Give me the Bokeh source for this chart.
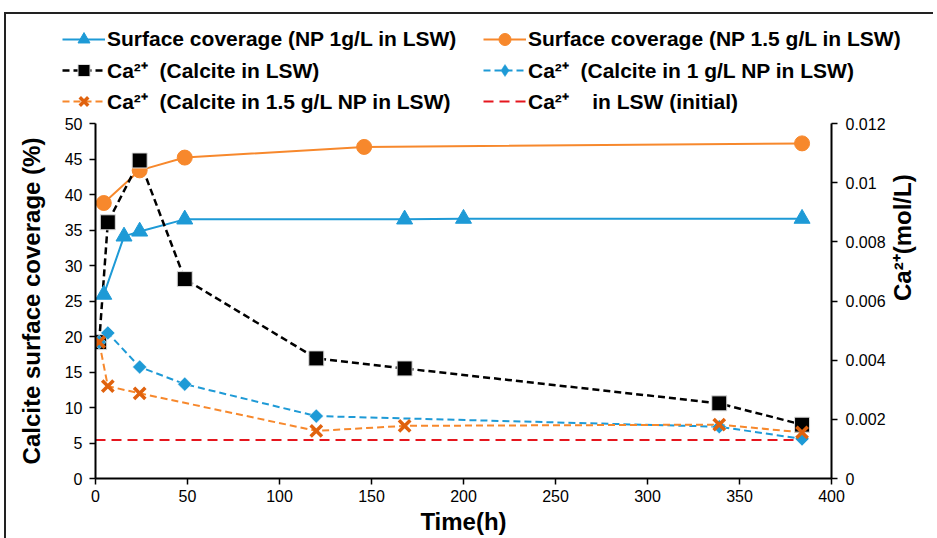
import math
from bokeh.plotting import figure
from bokeh.layouts import column
from bokeh.models import Range1d, LinearAxis, FixedTicker, Legend, LegendItem, PrintfTickFormatter
from bokeh.embed import file_html
from bokeh.resources import INLINE

# ---------------- data ----------------
sc1_hours = [4.5, 15.5, 24, 48.5, 168, 200, 384]
sc1_cov = [25.9, 34.1, 34.8, 36.5, 36.5, 36.6, 36.6]

sc15_hours = [4.5, 24, 48.5, 146, 384]
sc15_cov = [38.8, 43.4, 45.2, 46.7, 47.2]

ca_lsw_hours = [2, 6.7, 24, 48.5, 120, 168, 339, 384]
ca_lsw = [0.00461, 0.00866, 0.01075, 0.00674, 0.00406, 0.00372, 0.00254, 0.00182]

ca_np1_hours = [2, 6.7, 24, 48.5, 120, 339, 384]
ca_np1 = [0.00461, 0.00492, 0.00377, 0.00319, 0.00211, 0.00175, 0.00134]

ca_np15_hours = [2, 6.7, 24, 120, 168, 339, 384]
ca_np15 = [0.00461, 0.00312, 0.00288, 0.00161, 0.00178, 0.00182, 0.00156]

ca_init_hours = [0, 384]
ca_init = [0.0013, 0.0013]

x_ticks = [0, 50, 100, 150, 200, 250, 300, 350, 400]
cov_ticks = [0, 5, 10, 15, 20, 25, 30, 35, 40, 45, 50]
ca_ticks = [0, 0.002, 0.004, 0.006, 0.008, 0.01, 0.012]

labels = [
    "Surface coverage (NP 1g/L in LSW)",
    "Surface coverage (NP 1.5 g/L in LSW)",
    "Ca\u00b2\u207a  (Calcite in LSW)",
    "Ca\u00b2\u207a  (Calcite in 1 g/L NP in LSW)",
    "Ca\u00b2\u207a  (Calcite in 1.5 g/L NP in LSW)",
    "Ca\u00b2\u207a    in LSW (initial)",
]

# ---------------- styling ----------------
FONT = "Liberation Sans"
BLUE = "#1E9AD6"
ORANGE = "#F7882C"
XORANGE = "#E0620E"
RED = "#E5161E"

STY = dict(
    sc1=dict(line=dict(line_color=BLUE, line_width=2),
             mark=dict(marker="triangle", size=16, fill_color=BLUE, line_color=BLUE)),
    sc15=dict(line=dict(line_color=ORANGE, line_width=2),
              mark=dict(marker="circle", size=15, fill_color=ORANGE, line_color=ORANGE)),
    lsw=dict(line=dict(line_color="black", line_width=2.5, line_dash="7 4"),
             mark=dict(marker="square", size=15, fill_color="black", line_color="#dddddd", line_width=1)),
    np1=dict(line=dict(line_color=BLUE, line_width=2, line_dash="7 4"),
             mark=dict(marker="square", angle=math.pi / 4, size=10, fill_color=BLUE,
                       line_color="white", line_width=0.5)),
    np15=dict(line=dict(line_color=ORANGE, line_width=2, line_dash="7 4"),
              mark=dict(marker="x", size=16, line_color=XORANGE, line_width=3.5)),
    init=dict(line=dict(line_color=RED, line_width=2, line_dash="10 6"), mark=None),
)
# legend swatch for the rotated-square marker (legend swatches ignore angle)
LEG_MARK = dict(np1=dict(marker="diamond", fill_color=BLUE, line_color=BLUE))

series = [
    ("sc1", sc1_hours, sc1_cov, "default"),
    ("sc15", sc15_hours, sc15_cov, "default"),
    ("lsw", ca_lsw_hours, ca_lsw, "ca"),
    ("np1", ca_np1_hours, ca_np1, "ca"),
    ("np15", ca_np15_hours, ca_np15, "ca"),
    ("init", ca_init_hours, ca_init, "ca"),
]
data = {k: (xs, ys) for k, xs, ys, _ in series}

# ---------------- main figure ----------------
p = figure(width=929, height=424,
           x_range=Range1d(0, 400), y_range=Range1d(0, 50),
           output_backend="svg", toolbar_location=None,
           min_border_left=89, min_border_right=104,
           min_border_top=9, min_border_bottom=60)
p.extra_y_ranges = {"ca": Range1d(0, 0.012)}
p.outline_line_color = None
p.xgrid.visible = False
p.ygrid.visible = False

ra = LinearAxis(y_range_name="ca", ticker=FixedTicker(ticks=ca_ticks),
                formatter=PrintfTickFormatter(format="%g"),
                axis_label="Ca\u00b2\u207a(mol/L)")
p.add_layout(ra, "right")
try:
    ra.axis_label_orientation = math.pi / 2
except Exception:
    pass

p.xaxis.ticker = FixedTicker(ticks=x_ticks)
p.yaxis[0].ticker = FixedTicker(ticks=cov_ticks)
p.xaxis.axis_label = "Time(h)"
p.yaxis[0].axis_label = "Calcite surface coverage (%)"

for ax in [p.xaxis[0], p.yaxis[0], ra]:
    ax.axis_line_color = "black"
    ax.axis_line_width = 2
    ax.major_tick_line_color = "black"
    ax.major_tick_line_width = 1.5
    ax.major_tick_out = 6
    ax.major_tick_in = 0
    ax.minor_tick_line_color = None
    ax.major_label_text_font = FONT
    ax.major_label_text_font_size = "16px"
    ax.major_label_text_color = "black"
    ax.axis_label_text_font = FONT
    ax.axis_label_text_font_size = "24px"
    ax.axis_label_text_font_style = "bold"
    ax.axis_label_text_color = "black"

p.xaxis[0].major_label_standoff = 5
p.xaxis[0].axis_label_standoff = 3
p.yaxis[0].major_label_standoff = 7
p.yaxis[0].axis_label_standoff = 17
ra.major_label_standoff = 8
ra.axis_label_standoff = 14

for key, xs, ys, rng in series:
    p.line(xs, ys, y_range_name=rng, **STY[key]["line"])
for key, xs, ys, rng in series:
    if STY[key]["mark"] is not None:
        p.scatter(xs, ys, y_range_name=rng, **STY[key]["mark"])

main = column(p)
main.styles = {"margin-left": "4px", "border-left": "2px solid #222"}

# ---------------- legend strip (separate root, no frame alignment) ----------------
lf = figure(width=929, height=102, x_range=Range1d(-2, -1), y_range=Range1d(-2, -1),
            x_axis_type=None, y_axis_type=None,
            output_backend="svg", toolbar_location=None, min_border=0)
lf.outline_line_color = None
lf.grid.visible = False
lf.styles = {"display": "block", "margin-top": "12px", "margin-left": "4px",
             "border-top": "2px solid #222", "border-left": "2px solid #222"}

def legend_item(key, label):
    xs, ys = data[key]
    rs = [lf.line(xs, ys, **STY[key]["line"])]
    if STY[key]["mark"] is not None:
        mk = dict(STY[key]["mark"])
        mk.update(LEG_MARK.get(key, {}))
        mk.pop("angle", None)
        rs.append(lf.scatter(xs, ys, **mk))
    return LegendItem(label=label, renderers=rs)

def make_legend(items, loc):
    lg = Legend(items=items, location=loc, orientation="vertical")
    lg.background_fill_alpha = 0
    lg.border_line_color = None
    lg.padding = 0
    lg.margin = 0
    lg.spacing = 1
    lg.glyph_height = 30
    lg.label_height = 30
    lg.glyph_width = 43
    lg.label_standoff = 2
    lg.label_text_font = FONT
    lg.label_text_font_size = "21px"
    lg.label_text_font_style = "bold"
    lg.label_text_color = "black"
    return lg

legA = make_legend([legend_item("sc1", labels[0]),
                    legend_item("lsw", labels[2]),
                    legend_item("np15", labels[4])], (56, 0))
legB = make_legend([legend_item("sc15", labels[1]),
                    legend_item("np1", labels[3]),
                    legend_item("init", labels[5])], (477, 0))
lf.add_layout(legA, "center")
lf.add_layout(legB, "center")

open("out.html", "w").write(file_html([lf, main], INLINE))
